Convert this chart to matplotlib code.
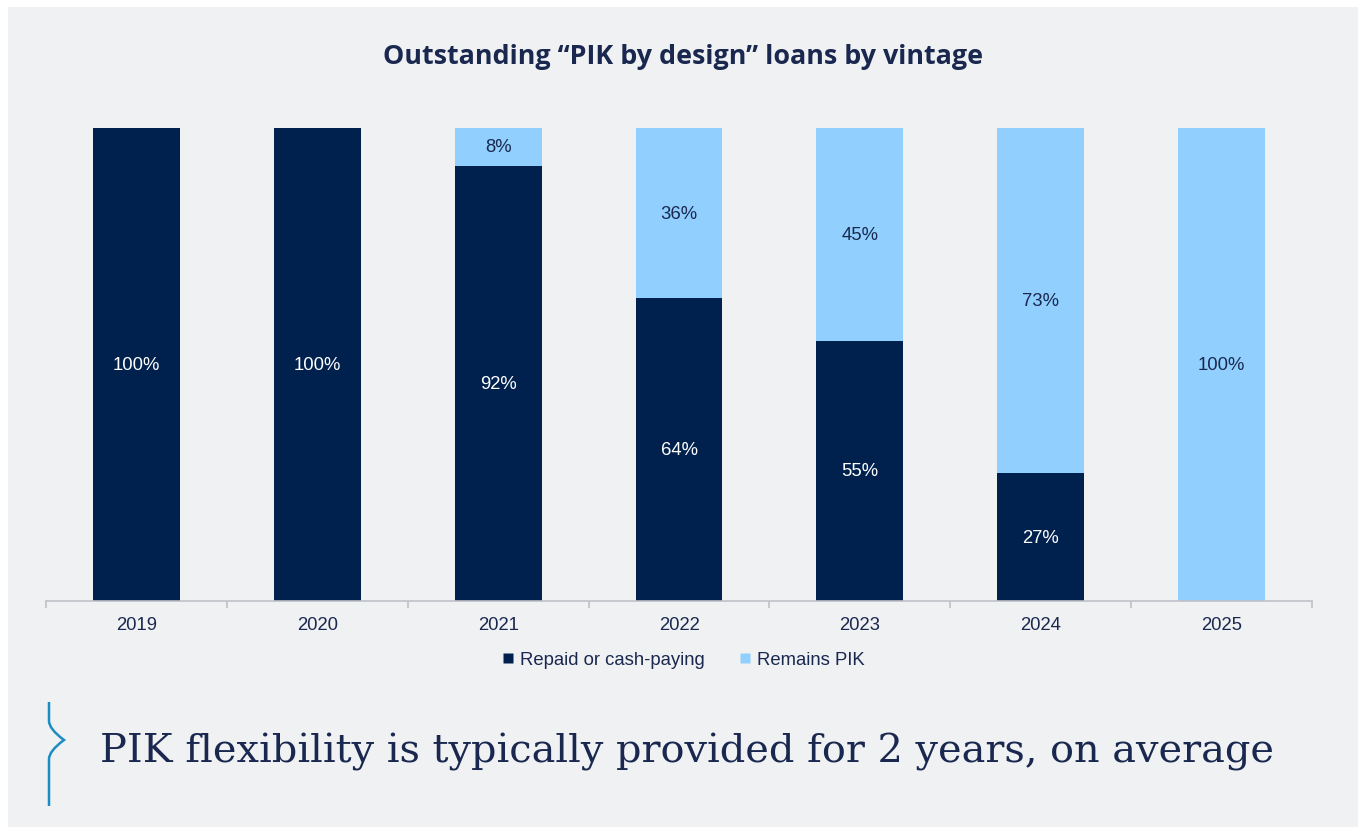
import matplotlib
matplotlib.use("Agg")
import matplotlib.pyplot as plt
from matplotlib.patches import Rectangle, PathPatch
from matplotlib.path import Path
from matplotlib.lines import Line2D
import numpy as np

years = ["2019", "2020", "2021", "2022", "2023", "2024", "2025"]
repaid = [100, 100, 92, 64, 55, 27, 0]
remains = [0, 0, 8, 36, 45, 73, 100]
series_names = ["Repaid or cash-paying", "Remains PIK"]
title = "Outstanding \u201cPIK by design\u201d loans by vintage"
caption = "PIK flexibility is typically provided for 2 years, on average"

NAVY = "#00214D"
LIGHT = "#91D0FE"
TEXT = "#1A2850"
PANEL = "#F0F1F3"
FS = 13.3

fig = plt.figure(figsize=(13.62, 8.28), dpi=100)
fig.patch.set_facecolor("white")
W, H = 1362, 828
fig.patches.append(Rectangle((8 / W, 0), (1358 - 8) / W, (828 - 8) / H,
                             transform=fig.transFigure, facecolor=PANEL,
                             edgecolor="none", zorder=-10))

ax = fig.add_axes([46 / W, 1 - 602 / H, (1312 - 46) / W, (602 - 129) / H])
ax.set_zorder(5)
ax.set_facecolor("none")
x = np.arange(len(years))
bw = 0.48
ax.bar(x, repaid, bw, color=NAVY, label=series_names[0], zorder=2)
ax.bar(x, remains, bw, bottom=repaid, color=LIGHT, label=series_names[1], zorder=2)

for i in range(len(years)):
    if repaid[i] > 0:
        ax.text(x[i], repaid[i] / 2, f"{repaid[i]}%", ha="center", va="center",
                color="white", fontsize=FS, family="Liberation Sans", zorder=3)
    if remains[i] > 0:
        ax.text(x[i], repaid[i] + remains[i] / 2, f"{remains[i]}%", ha="center",
                va="center", color=TEXT, fontsize=FS, family="Liberation Sans", zorder=3)

ax.set_xlim(-0.5, len(years) - 0.5)
ax.set_ylim(0, 100)
ax.set_yticks([])
for s in ["left", "right", "top"]:
    ax.spines[s].set_visible(False)
ax.spines["bottom"].set_color("#BFC1C8")
ax.spines["bottom"].set_linewidth(1.2)
ax.set_xticks(x)
ax.set_xticklabels(years, fontsize=FS, color=TEXT, family="Liberation Sans")
ax.tick_params(axis="x", which="major", length=0, pad=11)
ax.set_xticks(np.arange(-0.5, len(years), 1.0), minor=True)
ax.tick_params(axis="x", which="minor", length=5, width=1.2, color="#BFC1C8")

handles = [Line2D([], [], marker="s", linestyle="none", markersize=7.5,
                  markerfacecolor=NAVY, markeredgecolor="none"),
           Line2D([], [], marker="s", linestyle="none", markersize=7.5,
                  markerfacecolor=LIGHT, markeredgecolor="none")]
leg = fig.legend(handles, series_names, loc="center", bbox_to_anchor=(682 / W, 1 - 661 / H),
                 ncol=2, frameon=False, handletextpad=0.2, columnspacing=1.7,
                 handlelength=0.9, prop={"family": "Liberation Sans", "size": FS})
for t in leg.get_texts():
    t.set_color(TEXT)

fig.text(683 / W, 1 - 57 / H, title, ha="center", va="center", fontsize=19.4,
         fontweight="bold", color=TEXT, family="Open Sans")

fig.text(100 / W, 1 - 752 / H, caption, ha="left", va="center", fontsize=28.7,
         color=TEXT, family="DejaVu Serif")

# decorative bracket
verts = [(49 / W, 1 - 703 / H), (49 / W, 1 - 722 / H),
         (49 / W, 1 - 730 / H), (64 / W, 1 - 741 / H),
         (49 / W, 1 - 752 / H), (49 / W, 1 - 760 / H),
         (49 / W, 1 - 807 / H)]
codes = [Path.MOVETO, Path.LINETO, Path.CURVE3, Path.CURVE3, Path.CURVE3, Path.CURVE3,
         Path.LINETO]
fig.patches.append(PathPatch(Path(verts, codes), transform=fig.transFigure,
                             facecolor="none", edgecolor="#1B8CC4", linewidth=1.8))

fig.savefig("out.png", dpi=100, facecolor=fig.get_facecolor())
